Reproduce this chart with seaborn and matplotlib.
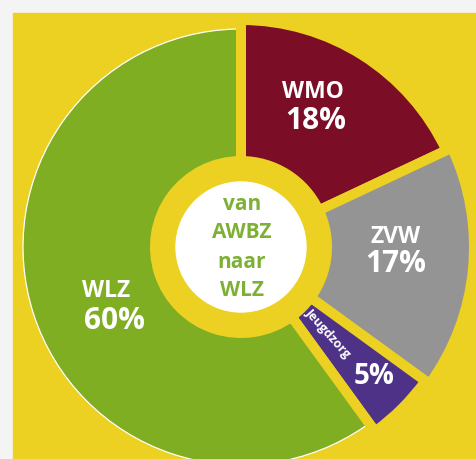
import matplotlib
matplotlib.use("Agg")
import matplotlib.pyplot as plt
from matplotlib.patches import Circle, Rectangle, Arc
import seaborn as sns

# ---- data ----
categories = ["WMO", "ZVW", "Jeugdzorg", "WLZ"]
shares = [18, 17, 5, 60]
pct_labels = ["18%", "17%", "5%", "60%"]
center_lines = ["van", "AWBZ", "naar", "WLZ"]

sns.set_theme(style="white")
plt.rcParams['font.family'] = ['Open Sans', 'DejaVu Sans']

colors = sns.color_palette(["#7b0e26", "#949494", "#4e3287", "#80ae23"])
YELLOW = "#ecd022"
CENTER_GREEN = "#7db035"

W, H = 476, 459
fig = plt.figure(figsize=(W / 100, H / 100), dpi=100, facecolor="#f4f4f4")
ax = fig.add_axes([0, 0, 1, 1])

def px(x, y):
    """pixel position measured from top-left -> data coords (y up)."""
    return x, H - y

cx, cy = px(241, 247)
gap_pt = 7.2
half_gap = gap_pt * 100 / 72 / 2
outer_r = [222, 228, 223, 218]
inner_r = 91

wedges, _ = ax.pie(shares, colors=colors, startangle=90, counterclock=False,
                   center=(cx, cy), radius=220,
                   wedgeprops=dict(width=130, edgecolor=YELLOW, linewidth=gap_pt,
                                   joinstyle="miter"))
for w, r in zip(wedges, outer_r):
    w.set_radius(r + half_gap)
    w.set_width(r + half_gap - (inner_r - half_gap))
    w.set_zorder(2)

# thin white outline on the WLZ outer arc
wlz = wedges[3]
t1, t2 = sorted([wlz.theta1, wlz.theta2])
d = half_gap / outer_r[3] * 57.2958
ax.add_patch(Arc((cx, cy), 2 * outer_r[3], 2 * outer_r[3], theta1=t1 + d, theta2=t2 - d,
                 color="white", lw=0.9, zorder=3))

ax.set_xlim(0, W)
ax.set_ylim(0, H)
ax.set_aspect("auto")
ax.axis("off")
ax.add_patch(Rectangle((13, 0), W - 13, H - 13, color=YELLOW, zorder=0))

# center white disc
ax.add_patch(Circle((cx, cy), 65, color="white", zorder=4))

# center text
for txt, yy in zip(center_lines, [205, 233, 262, 290]):
    ax.text(*px(242, yy), txt, ha="center", va="center", fontsize=15,
            fontweight="bold", color=CENTER_GREEN, zorder=5)

# segment labels
name_pos = {"WMO": (313, 92), "ZVW": (396, 237), "WLZ": (106, 291)}
pct_pos = {"WMO": (316, 121), "ZVW": (396, 264), "WLZ": (114, 321), "Jeugdzorg": (374, 377)}
for cat, pct in zip(categories, pct_labels):
    if cat in name_pos:
        ax.text(*px(*name_pos[cat]), cat, ha="center", va="center", fontsize=16.5,
                fontweight="bold", color="white", zorder=5)
    ax.text(*px(*pct_pos[cat]), pct, ha="center", va="center",
            fontsize=20 if cat == "Jeugdzorg" else 21.5,
            fontweight="bold", color="white", zorder=5)

ax.text(*px(328, 333), "Jeugdzorg", ha="center", va="center", fontsize=9,
        fontweight="bold", color="white", rotation=-48, rotation_mode="anchor", zorder=5)

fig.savefig("out.png", dpi=100, facecolor=fig.get_facecolor())
